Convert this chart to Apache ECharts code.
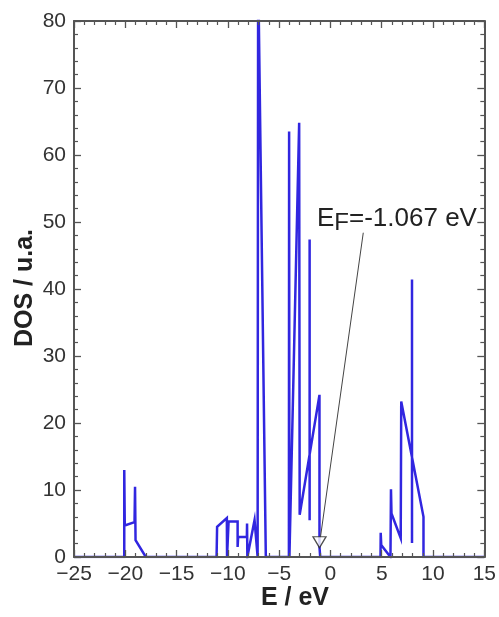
<!DOCTYPE html>
<html><head><meta charset="utf-8">
<script src="https://cdn.jsdelivr.net/npm/echarts@6/dist/echarts.min.js"></script>
<style>html,body{margin:0;padding:0;background:#fff}#c{width:499px;height:617px}</style>
</head><body><div id="c"></div>
<script>
// DOS curve, traced as a polyline (energy in eV, DOS in u.a.)
const energy = [-25, -20.1, -20.1, -20.05, -19.1, -19.05, -19.0, -18.0,
  -11.1, -11.05, -10.1, -10.08, -9.95, -9.93, -9.05, -9.05, -9.0, -8.15, -8.13, -8.1,
  -7.4, -7.1, -7.05, -6.3,
  -4.05, -4.03, -4.0, -3.05, -3.0, -2.03, -2.03, -2.03, -2.03, -1.07, -1.07, -1.0,
  4.88, 4.9, 4.95, 5.85, 5.9, 5.95, 6.85, 6.9, 7.95, 7.95, 7.95, 7.95, 9.07, 9.07, 15];
const dos = [0, 0, 13, 4.7, 5.2, 10.5, 2.5, 0,
  0, 4.5, 5.8, 0, 0, 5.3, 5.3, 1.5, 3.0, 3.0, 5.0, 0,
  5.5, 0, 88, 0,
  0, 63.5, 0, 64.8, 6.3, 15.3, 47.4, 5.5, 15.3, 24.2, 1.5, 0,
  0, 3.6, 1.8, 0, 10.1, 6.5, 2.8, 23.2, 14.9, 41.4, 2.1, 14.9, 6.0, 0, 0];
const fermiEnergy = -1.067;
const fermiMarkerDos = 2.2;
const annotationStart = [3.2, 48.4];
const annotationEnd = [-0.98, 2.9];
const xRange = [-25, 15];
const yRange = [0, 80];

const FONT = '"Liberation Sans", Arial, Helvetica, sans-serif';
const AX = '#555';
const minus = v => String(v).replace('-', '\u2212');

function axisBase(pos, showLabel, isX) {
  return {
    type: 'value', position: pos,
    min: isX ? xRange[0] : yRange[0], max: isX ? xRange[1] : yRange[1],
    interval: isX ? 5 : 10,
    z: 5,
    axisLine: { show: true, onZero: false, lineStyle: { color: AX, width: 2 } },
    axisTick: { show: true, inside: true, length: 7, lineStyle: { color: AX, width: 1.3 } },
    minorTick: { show: true, splitNumber: 5, length: 4, lineStyle: { color: AX, width: 1.2 } },
    splitLine: { show: false },
    axisLabel: {
      show: showLabel, color: '#333', fontSize: 21, fontFamily: FONT,
      margin: isX ? 7 : 8, formatter: minus
    }
  };
}

const chart = echarts.init(document.getElementById('c'), null, { renderer: 'canvas' });
chart.setOption({
  animation: false,
  backgroundColor: '#fff',
  grid: { left: 74, right: 11, top: 21, bottom: 60, containLabel: false },
  xAxis: [axisBase('bottom', true, true), axisBase('top', false, true)],
  yAxis: [axisBase('left', true, false), axisBase('right', false, false)],
  series: [
    {
      type: 'line', data: energy.map((e, i) => [e, dos[i]]),
      showSymbol: false, symbol: 'none', clip: true, z: 2,
      lineStyle: { color: '#3126e0', width: 2.5, join: 'miter' }
    },
    {
      type: 'line', data: [annotationStart, annotationEnd],
      symbol: 'none', z: 3, lineStyle: { color: '#444', width: 1 }
    },
    {
      type: 'scatter', data: [[fermiEnergy, fermiMarkerDos]],
      symbol: 'triangle', symbolRotate: 180, symbolSize: [13, 11], z: 4,
      itemStyle: { color: '#fff', borderColor: '#222', borderWidth: 1.3 }
    }
  ],
  graphic: [
    {
      type: 'text', left: 317, top: 206, z: 10,
      style: {
        text: '{e|E}{f|F}{r|=-1.067 eV}', fill: '#222',
        rich: {
          e: { fontSize: 26, fontFamily: FONT, verticalAlign: 'top', fill: '#222' },
          f: { fontSize: 24, fontFamily: FONT, verticalAlign: 'top', padding: [5, 0, 0, 0], fill: '#222' },
          r: { fontSize: 26, fontFamily: FONT, verticalAlign: 'top', fill: '#222' }
        }
      }
    },
    {
      type: 'text', x: 295, y: 598,
      style: { text: 'E / eV', font: 'bold 25px ' + FONT, fill: '#222', align: 'center', verticalAlign: 'middle' }
    },
    {
      type: 'text', x: 25, y: 288, rotation: Math.PI / 2,
      style: { text: 'DOS / u.a.', font: 'bold 25px ' + FONT, fill: '#222', align: 'center', verticalAlign: 'middle' }
    }
  ]
});
</script></body></html>
